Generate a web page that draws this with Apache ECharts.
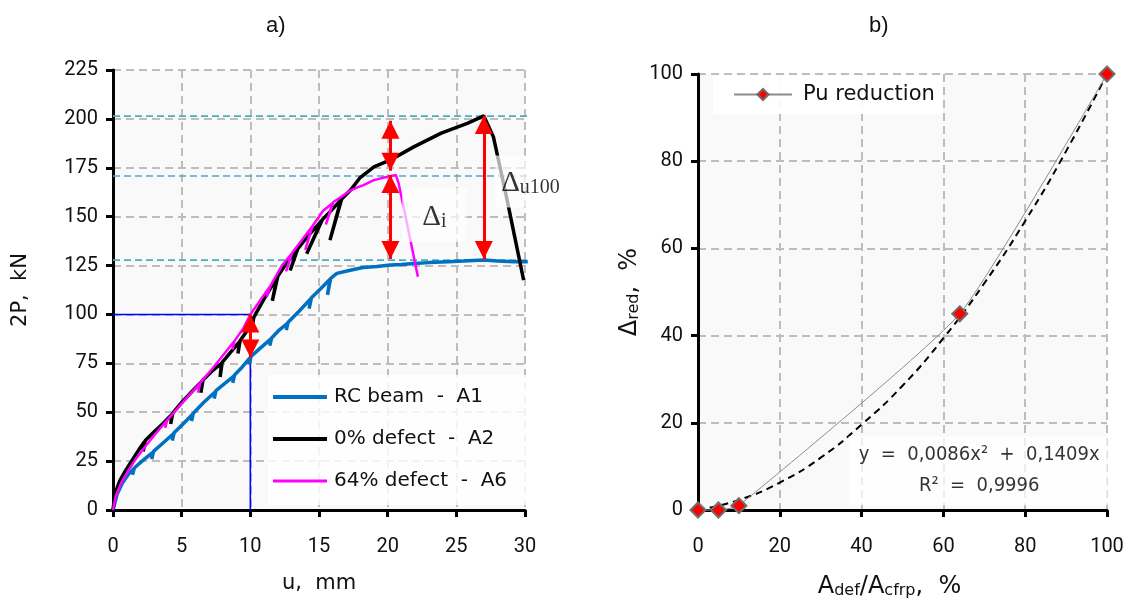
<!DOCTYPE html>
<html>
<head>
<meta charset="utf-8">
<script src="https://cdn.jsdelivr.net/npm/echarts@6/dist/echarts.min.js"></script>
<style>
  html, body { margin: 0; padding: 0; background: #fff; }
  #chart { width: 1127px; height: 610px; }
</style>
</head>
<body>
<div id="chart"></div>
<script>
// ---- a) load–deflection curves, [u (mm), 2P (kN)] ----
const beamA1 = [[0,0],[0.3,8],[0.7,14],[1.2,19],[1.5,21],[1.42,18],[1.55,21.5],[2.2,25.5],[2.9,29.5],[2.82,26],[2.95,30],
  [3.6,34],[4.4,39],[4.32,35.5],[4.45,39.5],[5.1,44],[5.8,49],[5.72,45.5],[5.85,49.5],[6.6,55],[7.45,60.5],[7.37,57],[7.5,61],
  [8.1,64.5],[8.8,68.5],[8.72,65],[8.85,69],[9.4,73],[10,78],[9.93,74.5],[10.05,78.5],[10.6,82],[11.5,87.5],[11.42,84],[11.55,88],
  [12.1,92],[12.7,95.5],[12.62,92],[12.75,96],[13.6,102],[14.4,108],[14.28,103],[14.45,108.5],[15.1,113],[15.8,118],[15.62,110],
  [15.85,118.5],[16.3,121],[17.2,122.5],[18.2,124],[19.2,124.5],[20.2,125.3],[21,125.5],[21.9,126],[23,126.5],[24.4,127],
  [25.5,127.3],[27,127.8],[28,127.3],[29.2,127],[30.2,127]];
const defect0A2 = [[0,0],[0.15,8.5],[0.5,15],[0.9,20],[1.4,25.5],[1.9,31],[2.3,35],[2.2,30],[2.35,35.5],[3.0,40],[3.6,44],
  [4.3,49],[4.2,44],[4.35,49.5],[5.0,55],[5.8,61],[6.5,66],[6.4,60],[6.55,66.5],[7.2,71],[7.9,75],[7.8,68],[7.95,75.5],
  [8.6,81],[9.2,86],[9.1,80],[9.25,86.5],[9.8,92],[10.2,98],[10.1,92],[10.25,98.5],[11.0,108],[11.95,119],[11.6,107],
  [12.0,119.5],[12.7,127],[13.4,133],[12.9,122.5],[13.45,133.5],[14.3,141],[15.2,148],[14.1,131],[15.25,148.5],[16.0,154],
  [16.6,158.5],[15.8,138],[16.65,159],[17.3,163.6],[18,170],[19,175.5],[20.2,179],[21.9,185.7],[23.9,192.7],[25.8,197.7],
  [27.0,201.5],[27.7,190.8],[28.7,158.5],[29.9,117.6]];
const defect64A6 = [[0,0],[0.2,7],[0.6,14],[1.1,20],[1.7,26.5],[2.4,33],[3.1,39],[3.9,45.5],[3.8,42],[3.95,46],[4.7,52],
  [5.5,58.5],[6.3,64.5],[6.2,60],[6.35,65],[7.2,72],[8.0,79],[8.8,86],[8.7,82],[8.85,86.5],[9.5,93],[10.0,100],[10.8,108],
  [11.4,114],[11.2,109],[11.45,114.5],[12.3,125],[13.0,131],[12.6,122],[13.05,131.5],[13.8,138.5],[14.5,145],[14.0,133],
  [14.55,145.5],[15.3,153],[16.0,157],[15.5,146],[16.05,157.5],[16.6,160],[17.2,163],[17.8,165],[18.2,166],[19.0,168.7],
  [19.5,169.6],[20.6,171.3],[20.8,167],[21.4,146.7],[22.2,119.3]];

// reference load levels (kN) and the service point
const peakLevels = [201.4, 170.8, 127.8];
const serviceU = 10, serviceP = 100;

// load drops marked by double arrows: [u, from, to]
const dropArrows = [[10, 100, 78], [20.2, 199, 173.5], [20.2, 171.3, 128.3], [27.0, 201.5, 128.3]];

// ---- b) capacity reduction vs defect area ----
const defectArea = [0, 5, 10, 64, 100];
const puReduction = [0, 0, 1, 45, 100];
const trendX = [0, 10, 20, 30, 40, 50, 60, 70, 80, 90, 100];
const trendY = [0, 2.3, 6.3, 12.0, 19.6, 28.5, 39.4, 52.0, 66.3, 82.3, 100];

const xTicksA = { min: 0, max: 30, interval: 5 };
const yTicksA = { min: 0, max: 225, interval: 25 };
const ticksB = { min: 0, max: 100, interval: 20 };

const FONT = '"Liberation Sans Narrow", Roboto, sans-serif';
const TXT = 'DejaVu Sans';

// arrow head whose tip sits exactly on the line end (square box, head in one half)
const ARROW_HEAD = 'path://M0,16 L8,32 L-8,32 Z M-16,0 L-16,0.01 L-15.99,0 Z M16,0 L16,0.01 L15.99,0 Z';

function axisParts(labelMargin) {
  return {
    axisLine: { show: true, onZero: false, lineStyle: { color: '#000', width: 3 } },
    axisTick: { show: true, length: 7, inside: false, lineStyle: { color: '#000', width: 3 } },
    splitLine: { show: true, lineStyle: { color: '#bdbdbd', width: 2, type: [8, 5] } },
    axisLabel: { margin: labelMargin, color: '#111', fontFamily: FONT, fontSize: 20 }
  };
}
const nameStyle = (size) => ({ color: '#111', fontFamily: TXT, fontSize: size });
const subRich = (size, sub) => ({
  n: { fontFamily: TXT, fontSize: size, color: '#111', lineHeight: size + 4, verticalAlign: 'bottom' },
  s: { fontFamily: TXT, fontSize: sub, color: '#111', lineHeight: sub - 2, verticalAlign: 'bottom' }
});

const refLine = (y, name) => ({
  type: 'line', name, xAxisIndex: 0, yAxisIndex: 0, data: [[0, y], [30.2, y]], showSymbol: false, silent: true,
  lineStyle: { color: '#4bacc6', width: 1.6, type: [7, 4] }, z: 4
});

const option = {
  backgroundColor: '#fff',
  animation: false,
  title: [
    { text: 'a)', left: 261, top: 10, textStyle: { fontFamily: 'Liberation Sans', fontWeight: 'normal', fontSize: 22, color: '#111' } },
    { text: 'b)', left: 864, top: 10, textStyle: { fontFamily: 'Liberation Sans', fontWeight: 'normal', fontSize: 22, color: '#111' } }
  ],
  grid: [
    { left: 113, right: 602, top: 70, bottom: 100, show: true, backgroundColor: '#f9f9f9', borderWidth: 0, z: 0 },
    { left: 698, right: 20, top: 74, bottom: 100, show: true, backgroundColor: '#f9f9f9', borderWidth: 0, z: 0 }
  ],
  xAxis: [
    Object.assign({ type: 'value', gridIndex: 0, z: 3 }, xTicksA, axisParts(27), {
      name: 'u,  mm', nameLocation: 'middle', nameGap: 63, nameTextStyle: nameStyle(21)
    }),
    Object.assign({ type: 'value', gridIndex: 1, z: 3 }, ticksB, axisParts(27), {
      name: '{n|A}{s|def}{n|/A}{s|cfrp}{n|,  %}', nameLocation: 'middle', nameGap: 61,
      nameTextStyle: Object.assign(nameStyle(24), { rich: subRich(24, 16), padding: [0, 26, 0, 0] })
    })
  ],
  yAxis: [
    Object.assign({ type: 'value', gridIndex: 0, z: 3 }, yTicksA, axisParts(15), {
      name: '2P,  kN', nameLocation: 'middle', nameGap: 82, nameRotate: 90, nameTextStyle: nameStyle(21)
    }),
    Object.assign({ type: 'value', gridIndex: 1, z: 3 }, ticksB, axisParts(15), {
      name: '{n|Δ}{s|red}{n|,  %}', nameLocation: 'middle', nameGap: 56, nameRotate: 90,
      nameTextStyle: Object.assign(nameStyle(24), { rich: subRich(24, 16) })
    })
  ],
  legend: [
    {
      data: [
        { name: 'RC beam  -  A1', icon: 'rect', itemStyle: { color: '#0070c0' } },
        { name: '0% defect  -  A2', icon: 'rect', itemStyle: { color: '#000' } },
        { name: '64% defect  -  A6', icon: 'path://M0,0.5 H54 V3.5 H0 Z', itemStyle: { color: '#ff00ff' } }
      ],
      orient: 'vertical', left: 268, top: 375, z: 20,
      padding: [11, 24, 13, 5], itemGap: 20, itemWidth: 54, itemHeight: 4,
      backgroundColor: 'rgba(255,255,255,0.82)',
      textStyle: { fontFamily: TXT, fontSize: 20, color: '#111', lineHeight: 22, padding: [0, 0, 0, 2] }
    },
    {
      data: ['Pu reduction'],
      left: 713, top: 75, z: 20, padding: [9, 8, 9, 20], itemWidth: 58, itemHeight: 14,
      backgroundColor: 'rgba(255,255,255,0.92)',
      textStyle: { fontFamily: TXT, fontSize: 21, color: '#111', padding: [0, 0, 0, 6] }
    }
  ],
  series: [
    refLine(peakLevels[0], 'peak A2'),
    refLine(peakLevels[1], 'peak A6'),
    refLine(peakLevels[2], 'peak A1'),
    {
      type: 'line', name: 'service', xAxisIndex: 0, yAxisIndex: 0, silent: true, showSymbol: false,
      data: [[0, serviceP], [serviceU, serviceP], [serviceU, 0]],
      lineStyle: { color: '#0000ff', width: 1.6 }, z: 4
    },
    {
      type: 'line', name: 'RC beam  -  A1', xAxisIndex: 0, yAxisIndex: 0, data: beamA1, showSymbol: false,
      symbol: 'none', lineStyle: { color: '#0070c0', width: 3.5 }, itemStyle: { color: '#0070c0' }, z: 5
    },
    {
      type: 'line', name: '0% defect  -  A2', xAxisIndex: 0, yAxisIndex: 0, data: defect0A2, showSymbol: false,
      symbol: 'none', lineStyle: { color: '#000', width: 3.5 }, itemStyle: { color: '#000' }, z: 6
    },
    {
      type: 'line', name: '64% defect  -  A6', xAxisIndex: 0, yAxisIndex: 0, data: defect64A6, showSymbol: false,
      symbol: 'none', lineStyle: { color: '#ff00ff', width: 2.5 }, itemStyle: { color: '#ff00ff' }, z: 7
    },
    {
      type: 'lines', coordinateSystem: 'cartesian2d', xAxisIndex: 0, yAxisIndex: 0, silent: true, z: 8,
      symbol: [ARROW_HEAD, ARROW_HEAD], symbolSize: 36,
      lineStyle: { color: '#ff0000', width: 3, opacity: 1 }, itemStyle: { color: '#ff0000' },
      data: dropArrows.map(a => ({ coords: [[a[0], a[1]], [a[0], a[2]]] }))
    },
    {
      type: 'scatter', xAxisIndex: 0, yAxisIndex: 0, symbolSize: 0, silent: true, z: 9, clip: false,
      data: [[23.4, 150.8]],
      label: {
        show: true, position: 'inside', formatter: '{d|Δ}{s|i}',
        backgroundColor: 'rgba(255,255,255,0.85)', padding: [12, 20, 10, 20],
        rich: { d: { fontFamily: 'Liberation Serif', fontSize: 29, color: '#000', lineHeight: 32, verticalAlign: 'bottom' },
                s: { fontFamily: 'Liberation Serif', fontSize: 20, color: '#000', lineHeight: 16, verticalAlign: 'bottom' } }
      }
    },
    {
      type: 'scatter', xAxisIndex: 0, yAxisIndex: 0, symbolSize: 0, silent: true, z: 9, clip: false,
      data: [[30.4, 168]],
      label: {
        show: true, position: 'inside', formatter: '{d|Δ}{s|u100}',
        backgroundColor: 'rgba(255,255,255,0.85)', padding: [10, 6, 10, 6],
        rich: { d: { fontFamily: 'Liberation Serif', fontSize: 29, color: '#000', lineHeight: 32, verticalAlign: 'bottom' },
                s: { fontFamily: 'Liberation Serif', fontSize: 20, color: '#000', lineHeight: 16, verticalAlign: 'bottom' } }
      }
    },
    // b)
    {
      type: 'line', name: 'trend', xAxisIndex: 1, yAxisIndex: 1, silent: true, showSymbol: false, smooth: true,
      data: trendX.map((x, i) => [x, trendY[i]]),
      lineStyle: { color: '#000', width: 2, type: [7, 5] }, z: 5
    },
    {
      type: 'line', name: 'Pu reduction', xAxisIndex: 1, yAxisIndex: 1, smooth: 0.15, clip: false,
      data: defectArea.map((x, i) => [x, puReduction[i]]),
      symbol: 'diamond', symbolSize: 15, showSymbol: true,
      lineStyle: { color: '#8c8c8c', width: 1 },
      itemStyle: { color: '#ff0000', borderColor: '#6e6e6e', borderWidth: 2 }, z: 6
    },
    {
      type: 'scatter', xAxisIndex: 1, yAxisIndex: 1, symbolSize: 0, silent: true, z: 9,
      data: [[68.5, 9.0]],
      label: {
        show: true, position: 'inside', align: 'center',
        formatter: 'y  =  0,0086x²  +  0,1409x\nR²  =  0,9996',
        fontFamily: 'DejaVu Sans Condensed', fontSize: 20, lineHeight: 31, color: '#000',
        backgroundColor: 'rgba(255,255,255,0.9)', padding: [4, 6, 3, 8], width: 245
      }
    }
  ]
};

const chart = echarts.init(document.getElementById('chart'), null, { renderer: 'canvas' });
chart.setOption(option);
</script>
</body>
</html>
